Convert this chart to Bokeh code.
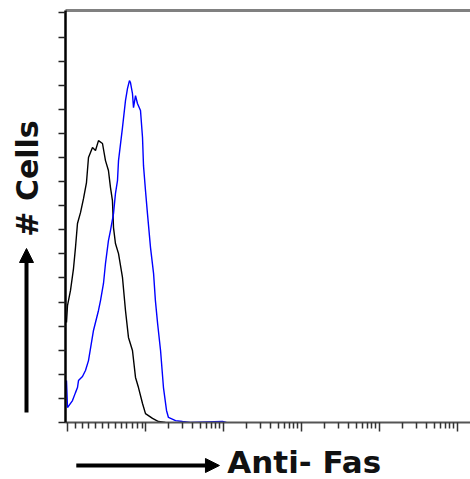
import math
from bokeh.plotting import figure
from bokeh.layouts import row, column
from bokeh.models import (Range1d, FixedTicker, LinearAxis, Arrow, NormalHead,
                          CustomJSTickFormatter)
from bokeh.core.properties import value
from bokeh.embed import file_html
from bokeh.resources import INLINE

# Isotype control (black) histogram: fluorescence value, cell count (tick units)
control_x = [0.971, 1.0, 1.093, 1.194, 1.266, 1.343, 1.468, 1.604, 1.752, 1.859, 2.092, 2.286,
             2.497, 2.81, 3.07, 3.35, 3.56, 3.77, 3.89, 4.12, 4.51, 5.07, 5.54, 6.05, 6.81,
             7.45, 8.13, 9.16, 10.0, 12.3, 14.7, 18.0]
control_y = [4.15, 4.85, 5.48, 6.39, 7.26, 8.26, 8.71, 9.29, 9.96, 11.0, 11.41, 11.29,
             11.70, 11.58, 10.87, 10.46, 9.75, 9.21, 8.09, 7.43, 7.01, 6.02, 4.65, 3.53, 2.99,
             1.87, 1.45, 0.79, 0.37, 0.17, 0.04, 0.0]

# Anti-Fas (blue) histogram
fas_x = [0.971, 1.0, 1.159, 1.266, 1.343, 1.384, 1.557, 1.701, 1.859, 2.154, 2.497, 2.65,
         2.894, 3.07, 3.35, 3.56, 3.89, 4.12, 4.375, 4.51, 5.07, 5.54, 5.875, 6.23, 6.42,
         6.81, 7.02, 7.45, 7.89, 8.63, 9.16, 9.43, 10.0, 10.6, 11.6, 12.7, 13.4, 14.3,
         15.6, 17.0, 18.6, 19.7, 24.3, 29.8, 37.8, 97.0, 109.0]
fas_y = [1.74, 0.62, 0.91, 1.24, 1.45, 1.74, 1.91, 2.16, 2.57, 3.82, 4.65, 5.06,
         5.77, 6.60, 7.55, 7.97, 8.67, 9.50, 10.04, 10.87, 12.24, 13.36, 13.86, 14.19, 14.11,
         13.65, 13.07, 13.57, 13.24, 12.95, 11.83, 10.66, 9.63, 8.67, 7.26, 6.18, 5.06, 4.11,
         2.99, 1.45, 0.50, 0.21, 0.08, 0.04, 0.0, 0.04, 0.0]

# Axis ticks and titles
y_ticks = list(range(0, 18))
x_major = [1, 10, 100, 1000, 10000, 100000]
x_minor_first = [1.26, 1.55, 1.86, 2.29, 2.82, 3.39, 4.17, 4.9, 5.75, 6.76, 7.94, 9.12]
x_minor = x_minor_first + [m * d for d in [10, 100, 1000, 10000] for m in range(2, 10)]
y_title = "# Cells"
x_title = "Anti- Fas"

FONT = value("DejaVu Sans")

# ---------------- main histogram ----------------
p = figure(width=413, height=442, x_axis_type="log",
           x_range=Range1d(0.943, 146800), y_range=Range1d(0, 17.1),
           output_backend="svg", toolbar_location=None,
           min_border_left=8, min_border_right=0, min_border_top=10, min_border_bottom=20)
p.outline_line_color = None
p.grid.visible = False

p.line(control_x, control_y, line_color="#000000", line_width=1.4)
p.line(fas_x, fas_y, line_color="#0000ff", line_width=1.4)

ya = p.yaxis[0]
ya.ticker = FixedTicker(ticks=y_ticks)
ya.formatter = CustomJSTickFormatter(code="return '';")
ya.major_label_standoff = 0
ya.major_tick_out = 7
ya.major_tick_in = 0
ya.minor_tick_line_color = None
ya.major_tick_line_color = "#222222"
ya.major_tick_line_width = 1.5
ya.axis_line_color = "#000000"
ya.axis_line_width = 2.5

xa = p.xaxis[0]
xa.ticker = FixedTicker(ticks=x_major, minor_ticks=x_minor)
xa.formatter = CustomJSTickFormatter(code="return '';")
xa.major_label_standoff = 0
xa.major_tick_out = 9
xa.major_tick_in = 0
xa.minor_tick_out = 6
xa.minor_tick_in = 0
xa.major_tick_line_color = "#333333"
xa.minor_tick_line_color = "#333333"
xa.major_tick_line_width = 1.5
xa.minor_tick_line_width = 1.5
xa.axis_line_color = "#555555"
xa.axis_line_width = 2

top = LinearAxis(major_tick_line_color=None, minor_tick_line_color=None,
                 formatter=CustomJSTickFormatter(code="return '';"),
                 major_label_standoff=0,
                 axis_line_color="#808080", axis_line_width=3)
p.add_layout(top, "above")

# ---------------- y title panel (pixel-like coordinates) ----------------
ly = figure(width=57, height=479, x_range=Range1d(0, 57), y_range=Range1d(0, 479),
            output_backend="svg", toolbar_location=None,
            x_axis_location=None, y_axis_location=None,
            min_border_left=0, min_border_right=0, min_border_top=0, min_border_bottom=0)
ly.outline_line_color = None
ly.grid.visible = False
ly.text(x=[27], y=[301], text=[y_title], angle=math.pi / 2,
        text_align="center", text_baseline="middle", text_font=FONT,
        text_font_style="bold", text_font_size=value("30px"), text_color="#111111")
ly.add_layout(Arrow(x_start=26, y_start=67, x_end=26, y_end=231, line_width=4,
                    line_color="#000000",
                    end=NormalHead(size=14, fill_color="#000000", line_color="#000000")))

# ---------------- x title panel ----------------
lx = figure(width=413, height=37, x_range=Range1d(0, 413), y_range=Range1d(0, 37),
            output_backend="svg", toolbar_location=None,
            x_axis_location=None, y_axis_location=None,
            min_border_left=0, min_border_right=0, min_border_top=0, min_border_bottom=0)
lx.outline_line_color = None
lx.grid.visible = False
lx.text(x=[165], y=[18], text=[x_title], text_align="left", text_baseline="middle",
        text_font=FONT, text_font_style="bold", text_font_size=value("31px"),
        text_color="#111111")
lx.add_layout(Arrow(x_start=11, y_start=14, x_end=157, y_end=14, line_width=4,
                    line_color="#000000",
                    end=NormalHead(size=14, fill_color="#000000", line_color="#000000")))

layout = row(ly, column(p, lx, spacing=0), spacing=0)

open("out.html", "w").write(file_html(layout, INLINE))
